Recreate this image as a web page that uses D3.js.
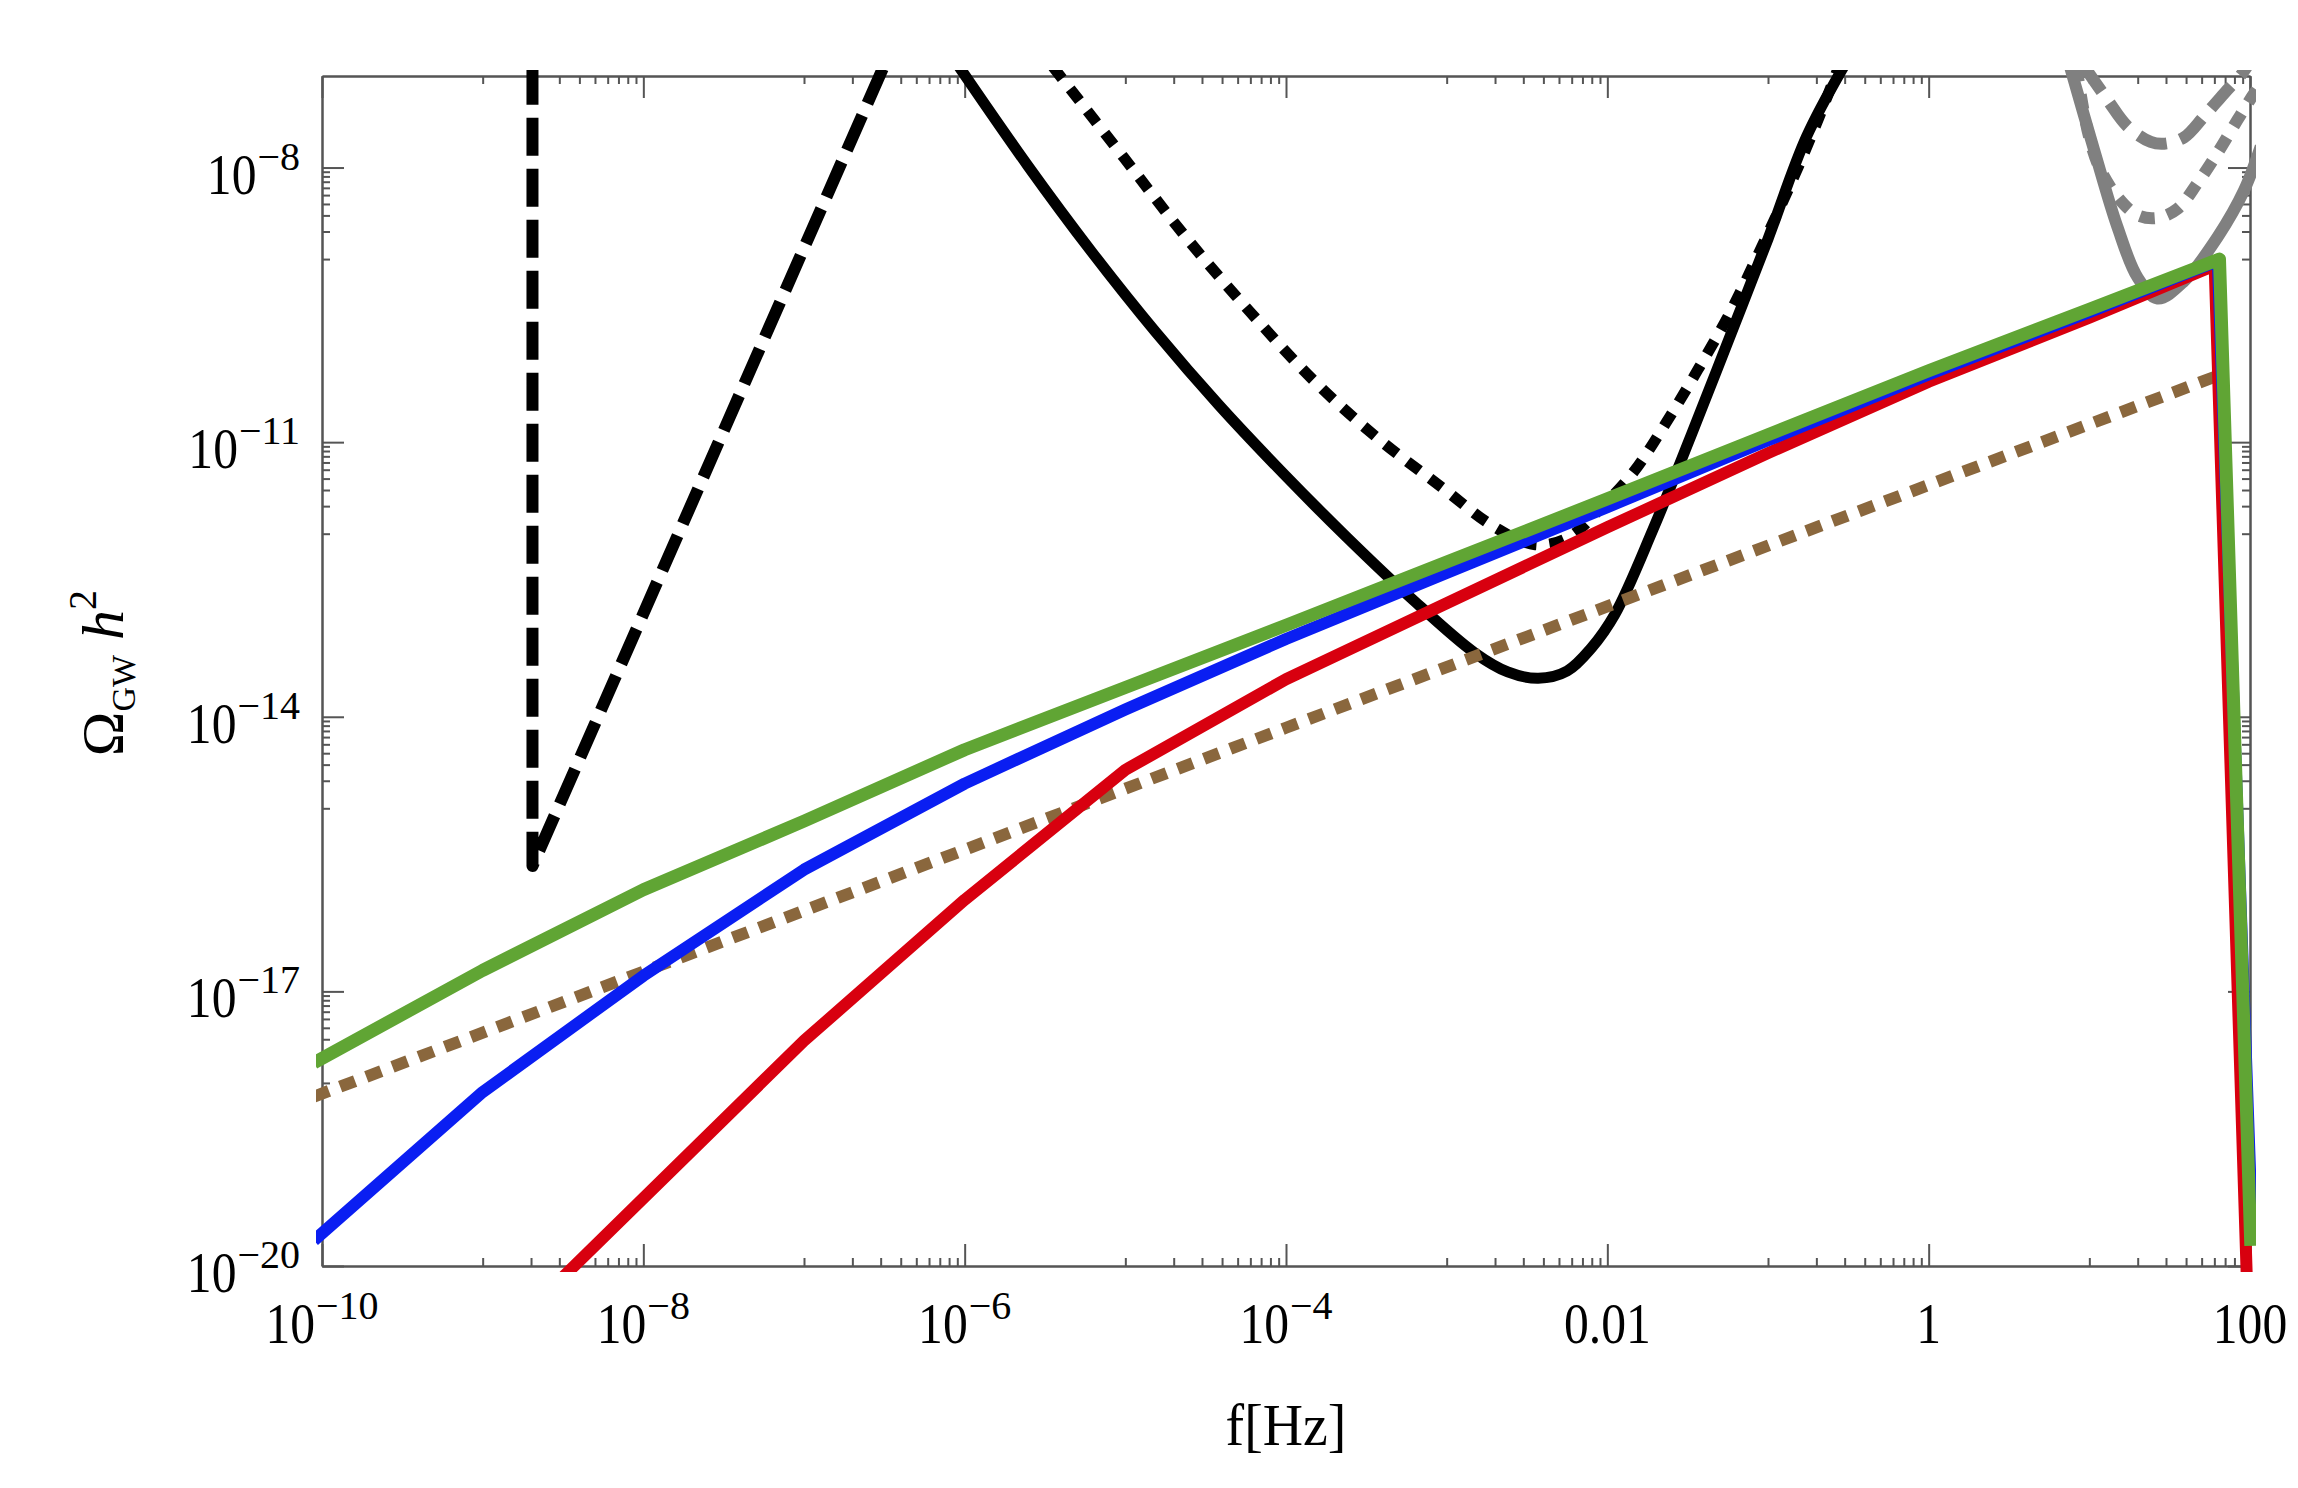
<!DOCTYPE html>
<html>
<head>
<meta charset="utf-8">
<script src="https://cdn.jsdelivr.net/npm/d3@7"></script>
<style>
  body { margin: 0; background: #fff; }
  text { font-family: "Liberation Serif", "Times New Roman", serif; fill: #000; }
</style>
</head>
<body>
<div id="chart"></div>
<script>
// values are log10(f / Hz) and log10(Omega h^2)
const blackDashLogF = [-8.69, -8.69, -6.505];
const blackDashLogO = [-6.9, -15.63, -6.9];

const blackSolidLogF = [-6.05, -5.607, -5.21, -4.81, -4.415, -4.018, -3.621, -3.224, -2.827, -2.62, -2.43, -2.25, -2.1, -1.953, -1.715, -1.477, -1.238, -1.0, -0.762, -0.53];
const blackSolidLogO = [-6.86, -7.98, -8.92, -9.80, -10.60, -11.34, -12.04, -12.70, -13.30, -13.51, -13.58, -13.50, -13.25, -12.88, -11.95, -10.92, -9.85, -8.78, -7.67, -6.9];

const blackDotLogF = [-5.45, -5.01, -4.614, -4.217, -3.82, -3.42, -3.025, -2.708, -2.45, -2.25, -2.03, -1.834, -1.635, -1.437, -1.238, -1.04, -0.841, -0.682, -0.56];
const blackDotLogO = [-6.9, -7.89, -8.78, -9.59, -10.34, -10.97, -11.50, -11.92, -12.12, -12.05, -11.70, -11.32, -10.79, -10.21, -9.59, -8.87, -8.11, -7.45, -6.9];

const greySolidLogF = [0.88, 1.030, 1.175, 1.300, 1.424, 1.590, 1.798, 1.963, 2.067];
const greySolidLogO = [-6.9, -7.81, -8.65, -9.20, -9.43, -9.24, -8.76, -8.25, -7.77];

const greyDashLogF = [0.97, 1.113, 1.237, 1.382, 1.465, 1.590, 1.714, 1.839, 1.943, 1.98];
const greyDashLogO = [-6.9, -7.26, -7.55, -7.72, -7.74, -7.67, -7.44, -7.19, -6.99, -6.9];

const greyDotLogF = [0.92, 0.956, 0.998, 1.060, 1.175, 1.300, 1.424, 1.549, 1.673, 1.798, 1.922, 2.026, 2.089];
const greyDotLogO = [-6.9, -7.30, -7.66, -7.99, -8.32, -8.52, -8.55, -8.45, -8.17, -7.84, -7.48, -7.19, -7.04];

const brownLogF = [-10.05, -4, 1.79];
const brownLogO = [-18.15, -14.12, -10.28];

const redLogF = [-8.5, -7, -6, -5, -4, -3, -2, -1, 0, 1, 1.78, 1.985];
const redLogO = [-20.12, -17.54, -16.0, -14.58, -13.59, -12.76, -11.93, -11.12, -10.34, -9.64, -9.07, -20.4];

const blueLogF = [-10.05, -9, -8, -7, -6, -5, -4, -3, -2, -1, 0, 1, 1.80, 2.015];
const blueLogO = [-19.72, -18.10, -16.83, -15.67, -14.73, -13.92, -13.15, -12.43, -11.71, -10.98, -10.26, -9.58, -9.02, -19.7];

const greenLogF = [-10.05, -9, -8, -7, -6, -5, -4, -3, -2, -1, 0, 1, 1.81, 2.005];
const greenLogO = [-17.78, -16.77, -15.89, -15.14, -14.36, -13.68, -13.0, -12.31, -11.62, -10.92, -10.22, -9.55, -9.0, -19.78];

const xTickValues = [1e-10, 1e-8, 1e-6, 1e-4, 1e-2, 1, 100];
const xTickBase = ['10', '10', '10', '10', '0.01', '1', '100'];
const xTickExp = ['\u221210', '\u22128', '\u22126', '\u22124', '', '', ''];

const yTickValues = [1e-8, 1e-11, 1e-14, 1e-17, 1e-20];
const yTickBase = ['10', '10', '10', '10', '10'];
const yTickExp = ['\u22128', '\u221211', '\u221214', '\u221217', '\u221220'];

const [width, height] = [2298, 1488];
const [x0, x1, y0, y1] = [322, 2250, 76, 1266];
const squeeze = 0.87;

const x = d3.scaleLog().domain([1e-10, 100]).range([x0, x1]);
const y = d3.scaleLog().domain([1e-20, 1e-7]).range([y1, y0]);

const svg = d3.select('#chart')
  .append('svg')
  .attr('width', width)
  .attr('height', height);

svg.append('defs')
  .append('clipPath')
  .attr('id', 'plot-clip')
  .append('rect')
  .attr('x', x0 - 6)
  .attr('y', y0 - 6)
  .attr('width', x1 - x0 + 12)
  .attr('height', y1 - y0 + 12);

// minor ticks: 1..9 x the decade just below each labelled decade
const xMinor = [];
[-9, -7, -5, -3, -1, 1].forEach(e => {
  for (let j = 1; j <= 9; j++) xMinor.push(j * Math.pow(10, e));
});
const yMinor = [];
[-9, -12, -15, -18].forEach(e => {
  for (let j = 1; j <= 9; j++) yMinor.push(j * Math.pow(10, e));
});

const frame = svg.append('g');

function drawAxis(axis, transform) {
  frame.append('g')
    .attr('transform', transform)
    .call(axis)
    .call(g => g.selectAll('text').remove())
    .call(g => g.selectAll('path, line').attr('stroke', '#555').attr('stroke-width', 2));
}

[[xTickValues, 22], [xMinor, 8]].forEach(([vals, size]) => {
  drawAxis(d3.axisBottom(x).tickValues(vals).tickSize(-size).tickSizeOuter(0), `translate(0,${y1})`);
  drawAxis(d3.axisTop(x).tickValues(vals).tickSize(-size).tickSizeOuter(0), `translate(0,${y0})`);
});
[[yTickValues, 22], [yMinor, 8]].forEach(([vals, size]) => {
  drawAxis(d3.axisLeft(y).tickValues(vals).tickSize(-size).tickSizeOuter(0), `translate(${x0},0)`);
  drawAxis(d3.axisRight(y).tickValues(vals).tickSize(-size).tickSizeOuter(0), `translate(${x1},0)`);
});

const line = d3.line()
  .x(d => x(Math.pow(10, d[0])))
  .y(d => y(Math.pow(10, d[1])));

const series = [
  { f: greySolidLogF, o: greySolidLogO, color: '#808080', w: 12, dash: null, smooth: true },
  { f: greyDashLogF, o: greyDashLogO, color: '#808080', w: 12, dash: '30,14', smooth: true },
  { f: greyDotLogF, o: greyDotLogO, color: '#808080', w: 12, dash: '15,13', smooth: true },
  { f: blackDashLogF, o: blackDashLogO, color: '#000', w: 12, dash: '38,13', smooth: false },
  { f: blackSolidLogF, o: blackSolidLogO, color: '#000', w: 11, dash: null, smooth: true },
  { f: blackDotLogF, o: blackDotLogO, color: '#000', w: 11, dash: '15,13', smooth: true },
  { f: brownLogF, o: brownLogO, color: '#8a673d', w: 12, dash: '16,12', smooth: false },
  { f: redLogF, o: redLogO, color: '#d8000f', w: 12, dash: null, smooth: false },
  { f: blueLogF, o: blueLogO, color: '#0a1ef2', w: 12, dash: null, smooth: false },
  { f: greenLogF, o: greenLogO, color: '#60a534', w: 13, dash: null, smooth: false },
];

const plot = svg.append('g').attr('clip-path', 'url(#plot-clip)');

plot.selectAll('path')
  .data(series)
  .join('path')
  .attr('d', s => line.curve(s.smooth ? d3.curveCatmullRom : d3.curveLinear)(d3.zip(s.f, s.o)))
  .attr('fill', 'none')
  .attr('stroke', s => s.color)
  .attr('stroke-width', s => s.w)
  .attr('stroke-dasharray', s => s.dash)
  .attr('stroke-linejoin', 'round');

// tick labels: narrow base digits, full-width superscript
function powerLabel(px, py, base, exp, anchor) {
  const g = svg.append('g');
  const b = g.append('text')
    .attr('font-size', 57)
    .attr('transform', `scale(${squeeze},1)`)
    .text(base);
  const bw = b.node().getComputedTextLength() * squeeze;
  let total = bw;
  if (exp) {
    const e = g.append('text')
      .attr('font-size', 40)
      .attr('x', bw + 1)
      .attr('y', -24)
      .text(exp);
    total += e.node().getComputedTextLength() + 1;
  }
  const shift = anchor === 'middle' ? total / 2 : total;
  g.attr('transform', `translate(${px - shift},${py})`);
}

xTickValues.forEach((v, i) => powerLabel(x(v), 1343, xTickBase[i], xTickExp[i], 'middle'));
yTickValues.forEach((v, i) => powerLabel(300, y(v) + 26, yTickBase[i], yTickExp[i], 'end'));

// axis titles
svg.append('text')
  .attr('transform', `translate(${(x0 + x1) / 2},1445) scale(0.93,1)`)
  .attr('text-anchor', 'middle')
  .attr('font-size', 60)
  .text('f[Hz]');

const yt = svg.append('text')
  .attr('transform', `translate(123,${(y0 + y1) / 2 + 2}) rotate(-90)`)
  .attr('text-anchor', 'middle')
  .attr('font-size', 60);
yt.append('tspan').text('\u03a9');
yt.append('tspan').attr('font-size', 34).attr('dy', 12).text('GW');
yt.append('tspan').attr('dy', -12).text(' ');
yt.append('tspan').attr('font-style', 'italic').text('h');
yt.append('tspan').attr('font-size', 40).attr('dy', -27).text('2');
</script>
</body>
</html>
